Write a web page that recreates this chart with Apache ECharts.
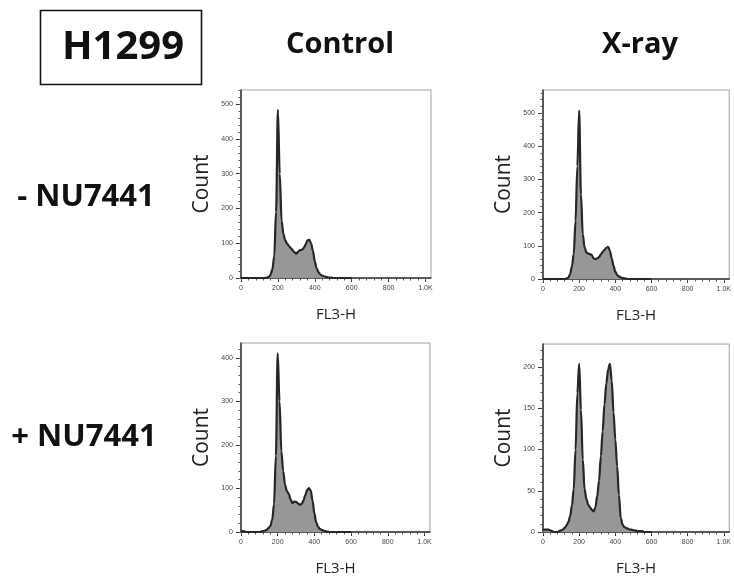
<!DOCTYPE html>
<html>
<head>
<meta charset="utf-8">
<script src="https://cdn.jsdelivr.net/npm/echarts@6/dist/echarts.min.js"></script>
<style>
  html, body { margin: 0; padding: 0; background: #fff; }
  #chart { width: 734px; height: 583px; }
</style>
</head>
<body>
<div id="chart"></div>
<script>
// FL3-H channel positions shared by all histograms (0 to 600, step 10)
const channels = [0,10,20,30,40,50,60,70,80,90,100,110,120,130,140,150,160,170,180,190,200,
  210,220,230,240,250,260,270,280,290,300,310,320,330,340,350,360,370,380,390,400,
  410,420,430,440,450,460,470,480,490,500,510,520,530,540,550,560,570,580,590,600];

// Event counts per channel
const controlMinus = [0,0,0,0,0,0,0,0,0,0,0,0,0,0,1,3,9,25,62,190,484,
  300,165,126,108,99,92,86,80,74,70,76,80,81,86,96,108,110,100,78,48,
  28,17,10,7,5,3,2,1,1,0,0,0,0,0,0,0,0,0,0,0];
const xrayMinus = [0,0,0,0,0,0,0,0,0,0,0,0,0,1,4,15,38,75,175,340,507,
  255,135,95,80,76,75,72,62,60,62,66,74,82,88,94,97,85,62,40,22,
  12,8,5,3,2,1,0,0,0,0,0,0,0,0,0,0,0,0,0,0];
const controlPlus = [2,2,1,0,0,0,0,0,0,0,0,1,2,3,5,9,14,28,64,175,410,
  300,185,140,108,94,88,75,66,70,69,66,63,64,72,84,96,101,95,72,42,
  22,12,7,5,3,2,1,0,0,0,0,0,0,0,0,0,0,0,0,0];
const xrayPlus = [2,3,3,3,2,1,0,0,0,1,2,3,5,8,12,19,32,52,100,168,204,
  148,88,52,40,33,30,27,25,30,44,62,92,122,155,180,197,204,184,145,112,
  80,45,17,9,6,5,4,3,3,2,2,1,1,1,1,0,0,0,0,0];

// Axis ticks
const xMajorTicks = [0,200,400,600,800,1000];
const xMinorTicks = [0,40,80,120,160,200,240,280,320,360,400,440,480,520,560,600,640,680,720,760,800,840,880,920,960,1000];
const yMajorTicksA = [0,100,200,300,400,500];
const yMajorTicksB = [0,50,100,150,200];

const columnTitles = ['Control', 'X-ray'];
const rowTitles = ['- NU7441', '+ NU7441'];
const cellLine = 'H1299';

// Panel layout: pixel box of each plot area, y range and tick spacing
const panels = [
  { data: controlMinus, left: 241, top: 90,  width: 190, height: 188, ymax: 541, major: yMajorTicksA, minorStep: 20 },
  { data: xrayMinus,    left: 543, top: 90,  width: 187, height: 189, ymax: 569, major: yMajorTicksA, minorStep: 20 },
  { data: controlPlus,  left: 241, top: 343, width: 189, height: 189, ymax: 434, major: yMajorTicksA, minorStep: 20 },
  { data: xrayPlus,     left: 543, top: 344, width: 187, height: 188, ymax: 228, major: yMajorTicksB, minorStep: 10 }
];

function stepsUpTo(max, step) {
  const out = [];
  for (let v = 0; v <= max; v += step) out.push(v);
  return out;
}

function xLabel(v) {
  return v >= 1000 ? (v / 1000).toFixed(1) + 'K' : String(v);
}

const axisColor = '#333';
const tickFont = { fontSize: 7, color: '#444', fontFamily: 'Liberation Sans' };

const grid = [], xAxis = [], yAxis = [], series = [];

panels.forEach((p, i) => {
  grid.push({
    left: p.left, top: p.top, width: p.width, height: p.height,
    show: true, borderColor: '#a0a0a0', borderWidth: 1, backgroundColor: '#fff'
  });
  // main x axis: labels and major ticks
  xAxis.push({
    type: 'value', gridIndex: i, min: 0, max: 1030,
    name: 'FL3-H', nameLocation: 'middle', nameGap: 29,
    nameTextStyle: { fontSize: 15, color: '#222', fontFamily: 'Open Sans' },
    axisLine: { show: true, lineStyle: { color: axisColor, width: 1.5 } },
    axisTick: { show: true, customValues: xMajorTicks, length: 4, lineStyle: { color: axisColor, width: 1 } },
    axisLabel: Object.assign({ customValues: xMajorTicks, margin: 7, formatter: xLabel }, tickFont),
    splitLine: { show: false }
  });
  // minor x ticks
  xAxis.push({
    type: 'value', gridIndex: i, min: 0, max: 1030, position: 'bottom',
    axisLine: { show: false },
    axisTick: { show: true, customValues: xMinorTicks, length: 2.5, lineStyle: { color: '#555', width: 1 } },
    axisLabel: { show: false }, splitLine: { show: false }
  });
  yAxis.push({
    type: 'value', gridIndex: i, min: 0, max: p.ymax,
    name: 'Count', nameLocation: 'middle', nameGap: 28, nameRotate: 90,
    nameTextStyle: { fontSize: 21, color: '#222', fontFamily: 'Open Sans' },
    axisLine: { show: true, lineStyle: { color: axisColor, width: 1.5 } },
    axisTick: { show: true, customValues: p.major, length: 5, lineStyle: { color: axisColor, width: 1 } },
    axisLabel: Object.assign({ customValues: p.major, margin: 8 }, tickFont),
    splitLine: { show: false }
  });
  yAxis.push({
    type: 'value', gridIndex: i, min: 0, max: p.ymax, position: 'left',
    axisLine: { show: false },
    axisTick: { show: true, customValues: stepsUpTo(p.ymax, p.minorStep), length: 2.5, lineStyle: { color: '#555', width: 1 } },
    axisLabel: { show: false }, splitLine: { show: false }
  });
  series.push({
    type: 'line', xAxisIndex: 2 * i, yAxisIndex: 2 * i,
    data: channels.map((c, k) => [c, p.data[k]]),
    smooth: 0.35, smoothMonotone: 'x', symbol: 'none',
    lineStyle: { color: '#262626', width: 2.2 },
    areaStyle: { color: '#979797', opacity: 1 },
    z: 3
  });
});

const boldFont = 'bold {s}px "Open Sans"';
function txt(text, x, y, size, align) {
  return {
    type: 'text', x: x, y: y,
    style: {
      text: text, fill: '#111', font: boldFont.replace('{s}', size),
      align: align || 'center', verticalAlign: 'middle'
    }
  };
}

const graphic = [
  { type: 'rect', shape: { x: 40.5, y: 10.5, width: 161, height: 74 },
    style: { fill: 'none', stroke: '#111', lineWidth: 1.6 } },
  txt(cellLine, 123, 48, 40),
  txt(columnTitles[0], 340, 45, 29),
  txt(columnTitles[1], 640, 45, 29),
  txt(rowTitles[0], 86, 197, 31),
  txt(rowTitles[1], 84, 437, 31)
];

const chart = echarts.init(document.getElementById('chart'), null, { renderer: 'canvas' });
chart.setOption({
  animation: false,
  backgroundColor: '#fff',
  grid: grid, xAxis: xAxis, yAxis: yAxis, series: series, graphic: graphic
});
</script>
</body>
</html>
